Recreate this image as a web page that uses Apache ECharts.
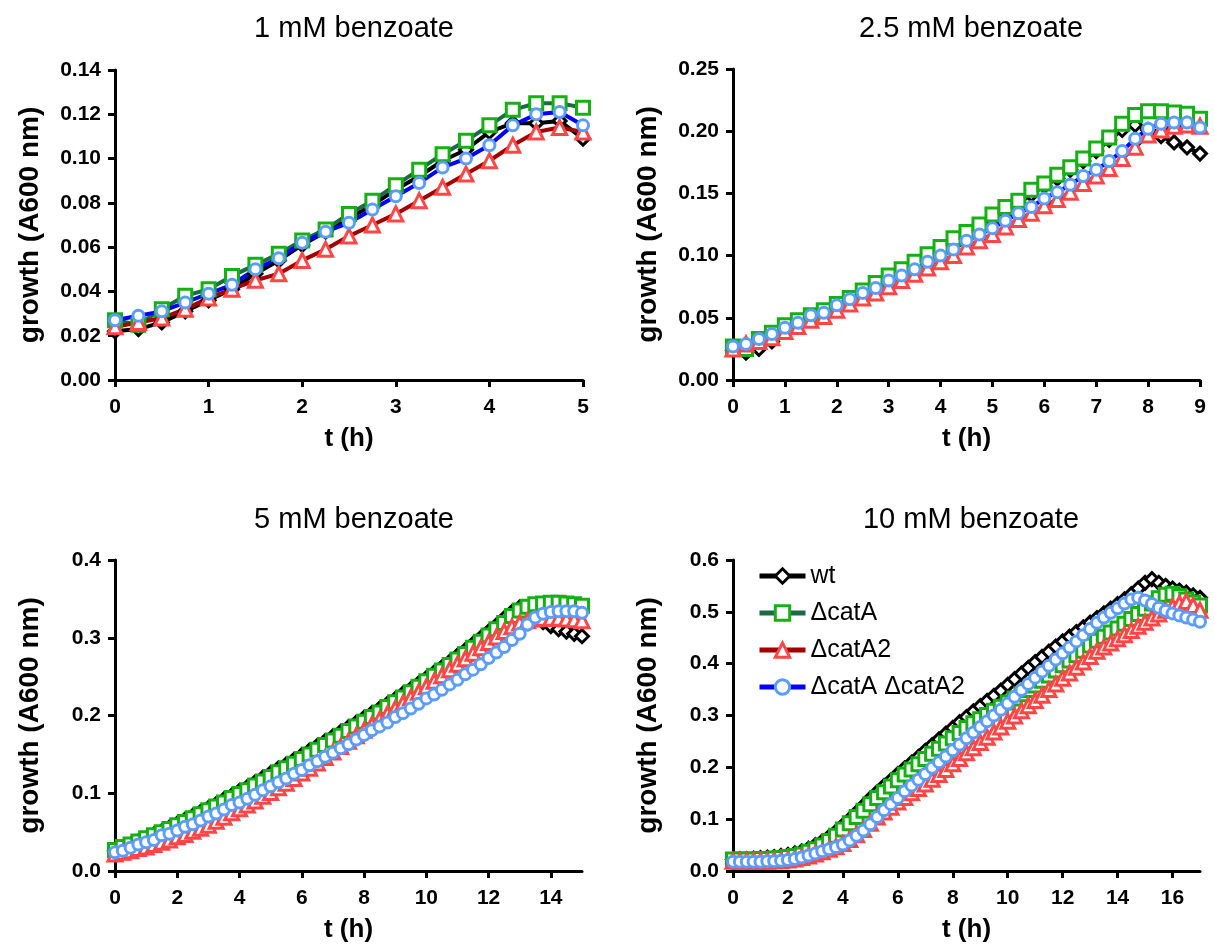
<!DOCTYPE html>
<html><head><meta charset="utf-8">
<script src="https://cdn.jsdelivr.net/npm/echarts@6/dist/echarts.min.js"></script>
<style>html,body{margin:0;padding:0;background:#fff}#c{width:1214px;height:949px}</style>
</head><body><div id="c"></div>
<script>
// ---- data (growth A600 nm, sampled every 0.25 h) ----
const SERIES_NAMES = ['wt', 'ΔcatA', 'ΔcatA2', 'ΔcatA ΔcatA2'];
const TITLES = ['1 mM benzoate', '2.5 mM benzoate', '5 mM benzoate', '10 mM benzoate'];
const STEP_H = 0.25;

const P1_wt    = [0.022,0.023,0.026,0.031,0.036,0.041,0.048,0.054,0.061,0.067,0.073,0.079,0.086,0.092,0.099,0.104,0.112,0.116,0.116,0.117,0.109];
const P1_catA  = [0.027,0.025,0.032,0.038,0.041,0.047,0.052,0.057,0.063,0.068,0.075,0.081,0.088,0.095,0.102,0.108,0.115,0.122,0.125,0.125,0.123];
const P1_catA2 = [0.024,0.026,0.028,0.032,0.037,0.041,0.045,0.048,0.054,0.059,0.065,0.070,0.075,0.081,0.087,0.093,0.099,0.106,0.112,0.114,0.112];
const P1_dbl   = [0.027,0.029,0.031,0.035,0.039,0.043,0.050,0.055,0.062,0.067,0.071,0.077,0.083,0.089,0.096,0.100,0.106,0.115,0.120,0.121,0.115];

const P2_wt    = [0.024,0.022,0.025,0.031,0.039,0.044,0.049,0.054,0.060,0.065, 0.070,0.075,0.080,0.086,0.091,0.097,0.103,0.109,0.115,0.121, 0.128,0.135,0.142,0.149,0.156,0.162,0.169,0.176,0.184,0.193, 0.201,0.205,0.201,0.196,0.191,0.187,0.182];
const P2_catA  = [0.027,0.025,0.033,0.038,0.044,0.048,0.052,0.056,0.061,0.066, 0.072,0.078,0.084,0.089,0.095,0.101,0.107,0.114,0.119,0.125, 0.133,0.139,0.144,0.153,0.158,0.165,0.171,0.178,0.186,0.195, 0.206,0.213,0.216,0.216,0.215,0.214,0.210];
const P2_catA2 = [0.025,0.029,0.031,0.034,0.039,0.043,0.048,0.051,0.056,0.061, 0.066,0.070,0.075,0.080,0.085,0.090,0.095,0.100,0.107,0.112, 0.117,0.123,0.129,0.134,0.140,0.145,0.151,0.158,0.164,0.170, 0.178,0.187,0.197,0.201,0.204,0.205,0.204];
const P2_dbl   = [0.027,0.029,0.033,0.037,0.042,0.046,0.052,0.054,0.060,0.065, 0.070,0.074,0.080,0.084,0.089,0.095,0.100,0.105,0.112,0.117, 0.122,0.128,0.134,0.139,0.146,0.151,0.157,0.164,0.169,0.176, 0.184,0.194,0.202,0.206,0.207,0.207,0.203];

const P3_wt    = [0.026,0.030,0.034,0.038,0.042,0.047,0.051,0.056,0.061,0.066, 0.071,0.076,0.081,0.086,0.092,0.097,0.103,0.108,0.114,0.120, 0.126,0.132,0.137,0.143,0.149,0.155,0.161,0.167,0.173,0.179, 0.185,0.191,0.197,0.203,0.209,0.215,0.221,0.228,0.234,0.241, 0.248,0.255,0.262,0.269,0.277,0.284,0.292,0.300,0.308,0.316, 0.325,0.333,0.339,0.334,0.326,0.320,0.315,0.311,0.308,0.305, 0.302];
const P3_catA  = [0.027,0.031,0.034,0.038,0.042,0.046,0.050,0.054,0.059,0.063, 0.068,0.073,0.078,0.083,0.088,0.094,0.099,0.104,0.110,0.115, 0.121,0.127,0.132,0.138,0.144,0.150,0.156,0.162,0.168,0.174, 0.180,0.186,0.192,0.198,0.204,0.211,0.217,0.223,0.230,0.237, 0.244,0.251,0.258,0.265,0.272,0.279,0.287,0.295,0.303,0.311, 0.319,0.328,0.335,0.340,0.343,0.344,0.345,0.345,0.344,0.343, 0.341];
const P3_catA2 = [0.022,0.024,0.026,0.029,0.031,0.034,0.037,0.040,0.044,0.047, 0.051,0.055,0.059,0.064,0.069,0.075,0.080,0.085,0.090,0.096, 0.101,0.107,0.113,0.119,0.126,0.132,0.139,0.146,0.153,0.160, 0.167,0.174,0.181,0.188,0.195,0.202,0.209,0.216,0.223,0.230, 0.237,0.244,0.251,0.259,0.266,0.273,0.280,0.287,0.294,0.301, 0.308,0.314,0.319,0.322,0.324,0.325,0.325,0.325,0.324,0.323, 0.322];
const P3_dbl   = [0.024,0.026,0.030,0.034,0.037,0.040,0.046,0.048,0.052,0.057, 0.060,0.065,0.070,0.074,0.079,0.085,0.088,0.093,0.098,0.104, 0.109,0.114,0.119,0.125,0.130,0.136,0.141,0.147,0.152,0.158, 0.163,0.169,0.175,0.181,0.186,0.191,0.198,0.203,0.209,0.215, 0.222,0.227,0.233,0.240,0.246,0.253,0.259,0.266,0.274,0.281, 0.288,0.297,0.305,0.317,0.326,0.331,0.333,0.334,0.334,0.334, 0.332];

const P4_wt    = [0.022,0.023,0.023,0.024,0.025,0.026,0.027,0.029,0.031,0.034, 0.038,0.043,0.050,0.057,0.066,0.076,0.088,0.100,0.113,0.126, 0.140,0.152,0.164,0.175,0.187,0.198,0.209,0.220,0.232,0.243, 0.254,0.265,0.276,0.287,0.297,0.308,0.318,0.328,0.338,0.348, 0.359,0.370,0.381,0.392,0.403,0.413,0.423,0.433,0.443,0.452, 0.461,0.470,0.479,0.488,0.497,0.506,0.515,0.524,0.534,0.545, 0.556,0.563,0.556,0.550,0.545,0.541,0.537,0.532,0.527];
const P4_catA  = [0.022,0.022,0.022,0.022,0.023,0.023,0.024,0.025,0.027,0.029, 0.032,0.037,0.042,0.049,0.058,0.068,0.080,0.092,0.104,0.116, 0.129,0.141,0.152,0.163,0.175,0.186,0.196,0.206,0.216,0.226, 0.236,0.246,0.256,0.266,0.276,0.285,0.293,0.301,0.309,0.317, 0.325,0.333,0.341,0.349,0.358,0.367,0.377,0.387,0.397,0.406, 0.416,0.425,0.435,0.444,0.452,0.460,0.468,0.477,0.486,0.496, 0.506,0.516,0.526,0.533,0.535,0.530,0.524,0.518,0.512];
const P4_catA2 = [0.019,0.019,0.019,0.019,0.019,0.019,0.020,0.020,0.021,0.023, 0.026,0.029,0.033,0.037,0.042,0.047,0.053,0.061,0.070,0.080, 0.092,0.104,0.114,0.123,0.133,0.142,0.151,0.159,0.168,0.177, 0.186,0.196,0.207,0.217,0.228,0.238,0.248,0.258,0.268,0.278, 0.289,0.299,0.309,0.319,0.329,0.339,0.350,0.361,0.372,0.382, 0.393,0.403,0.414,0.424,0.432,0.440,0.448,0.456,0.464,0.472, 0.480,0.488,0.496,0.503,0.510,0.516,0.520,0.512,0.503];
const P4_dbl   = [0.018,0.018,0.018,0.018,0.018,0.019,0.019,0.020,0.021,0.023, 0.026,0.030,0.034,0.038,0.042,0.046,0.051,0.059,0.068,0.078, 0.090,0.104,0.117,0.129,0.141,0.154,0.165,0.176,0.187,0.199, 0.210,0.221,0.233,0.244,0.256,0.267,0.278,0.289,0.300,0.311, 0.323,0.336,0.349,0.361,0.373,0.385,0.396,0.408,0.420,0.431, 0.443,0.455,0.467,0.479,0.489,0.498,0.507,0.516,0.524,0.527, 0.522,0.515,0.508,0.502,0.497,0.493,0.489,0.485,0.481];

// axis ticks
const X_TICKS = [[0,1,2,3,4,5],[0,1,2,3,4,5,6,7,8,9],[0,2,4,6,8,10,12,14],[0,2,4,6,8,10,12,14,16]];
const X_MAX = [5, 9, 15, 17];
const Y_TICKS = [[0,0.02,0.04,0.06,0.08,0.10,0.12,0.14],[0,0.05,0.10,0.15,0.20,0.25],[0,0.1,0.2,0.3,0.4],[0,0.1,0.2,0.3,0.4,0.5,0.6]];
const Y_DEC = [2, 2, 1, 1];

// ---- layout / styles ----
const PANEL_DATA = [
  [P1_wt, P1_catA, P1_catA2, P1_dbl],
  [P2_wt, P2_catA, P2_catA2, P2_dbl],
  [P3_wt, P3_catA, P3_catA2, P3_dbl],
  [P4_wt, P4_catA, P4_catA2, P4_dbl]
];
const GRIDS = [
  {left:115, top:70, width:468, height:310},
  {left:733, top:69, width:467, height:311},
  {left:115, top:560, width:467, height:311},
  {left:733, top:560, width:467, height:311}
];
const FONT = '"Liberation Sans", Arial, Helvetica, sans-serif';
const STYLES = [
  {line:'#000000', mark:'#000000', symbol:'diamond',  size:13},
  {line:'#1c6b47', mark:'#14b014', symbol:'rect',     size:13},
  {line:'#a30000', mark:'#ff4646', symbol:'triangle', size:14},
  {line:'#0000ff', mark:'#5b9cff', symbol:'circle',   size:11}
];

const series = [];
PANEL_DATA.forEach((arrs, gi) => {
  arrs.forEach((vals, si) => {
    const st = STYLES[si];
    series.push({
      type:'line', name:SERIES_NAMES[si], xAxisIndex:gi, yAxisIndex:gi,
      data: vals.map((v,k) => [k*STEP_H, v]),
      symbol: st.symbol, symbolSize: st.size, showSymbol:true, showAllSymbol:true,
      lineStyle:{color:st.line, width:4},
      itemStyle:{color:'#ffffff', borderColor:st.mark, borderWidth:3},
      emphasis:{disabled:true}, animation:false, clip:false
    });
  });
});

const xAxis = GRIDS.map((g,i) => ({
  gridIndex:i, type:'value', min:0, max:X_MAX[i], interval:(i<2?1:2),
  name:'t (h)', nameLocation:'middle', nameGap:46,
  nameTextStyle:{fontSize:26, fontWeight:'bold', color:'#000', fontFamily:FONT},
  axisLine:{show:true, onZero:false, lineStyle:{color:'#000', width:3}},
  axisTick:{show:true, length:7, customValues:X_TICKS[i], lineStyle:{color:'#000', width:3}},
  axisLabel:{customValues:X_TICKS[i], fontSize:21, fontWeight:'bold', color:'#000', fontFamily:FONT, margin:17},
  splitLine:{show:false}
}));
const yAxis = GRIDS.map((g,i) => ({
  gridIndex:i, type:'value', min:0, max:Y_TICKS[i][Y_TICKS[i].length-1],
  name:'growth (A600 nm)', nameLocation:'middle', nameGap:71,
  nameTextStyle:{fontSize:28, fontWeight:'bold', color:'#000', fontFamily:FONT},
  axisLine:{show:true, onZero:false, lineStyle:{color:'#000', width:3}},
  axisTick:{show:true, length:7, customValues:Y_TICKS[i], lineStyle:{color:'#000', width:3}},
  axisLabel:{customValues:Y_TICKS[i], fontSize:21, fontWeight:'bold', color:'#000', fontFamily:FONT, margin:14,
    formatter:(v)=>Number(v).toFixed(Y_DEC[i])},
  splitLine:{show:false}
}));

const titleCenters = [[349,9],[966,9],[349,500],[966,500]];
const chart = echarts.init(document.getElementById('c'), null, {renderer:'canvas'});
chart.setOption({
  backgroundColor:'#ffffff',
  animation:false,
  title: TITLES.map((t,i) => ({text:t, left:titleCenters[i][0], top:titleCenters[i][1], textAlign:'center',
    textStyle:{fontSize:29, fontWeight:'normal', color:'#000', fontFamily:FONT}})),
  legend:{data:SERIES_NAMES, orient:'vertical', left:757, top:563, padding:0, itemWidth:46, itemHeight:18, itemGap:11,
    lineStyle:{width:5}, itemStyle:{borderWidth:3},
    textStyle:{fontSize:25, lineHeight:26, color:'#000', fontFamily:FONT}},
  grid: GRIDS,
  xAxis, yAxis, series
});
</script></body></html>
